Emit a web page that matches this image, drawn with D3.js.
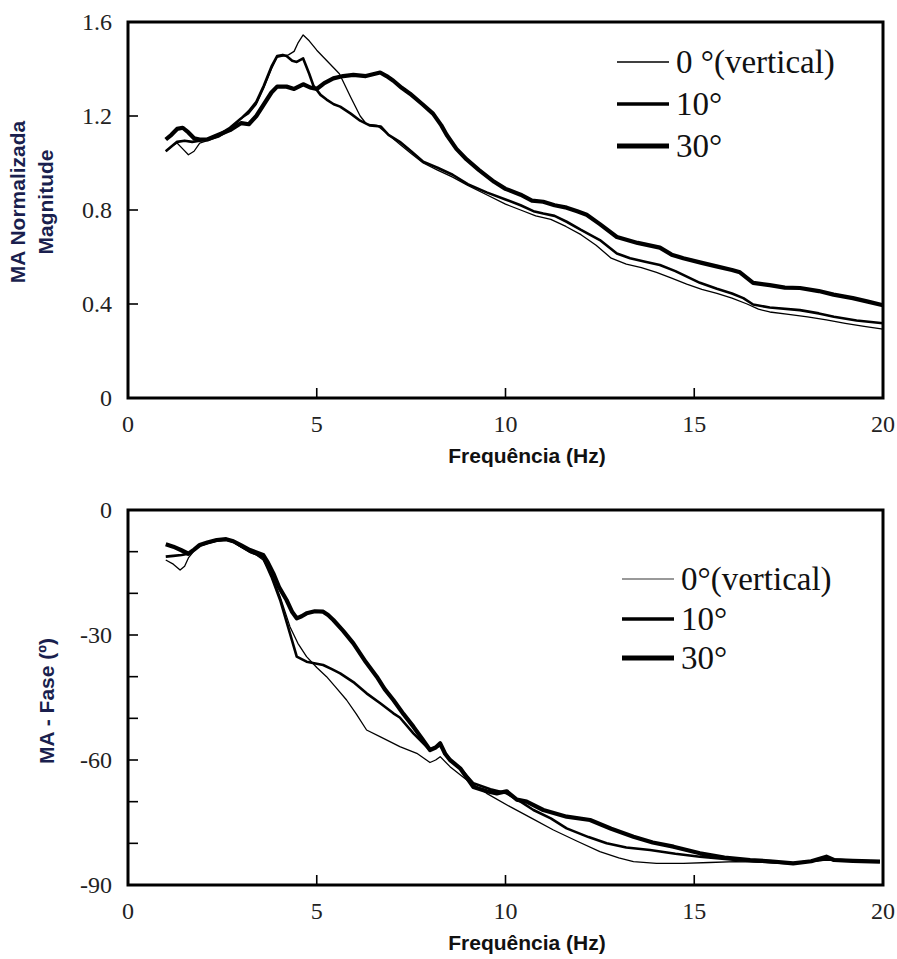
<!DOCTYPE html>
<html>
<head>
<meta charset="utf-8">
<script src="https://cdn.jsdelivr.net/npm/d3@7"></script>
</head>
<body style="margin:0">
<svg id="chart" width="897" height="959"></svg>
<script>
// series labels
var seriesNames = ["0 °(vertical)", "10°", "30°"];
var seriesNamesPhase = ["0°(vertical)", "10°", "30°"];

// tick values
var xTicks = [0, 5, 10, 15, 20];
var magTicks = [0, 0.4, 0.8, 1.2, 1.6];
var phaseTicks = [0, -30, -60, -90];
var phaseMinorTicks = [-10, -20, -40, -50, -70, -80];

// magnitude curves: [Hz, value]
var mag0 = [[1.0,1.05],[1.15,1.07],[1.3,1.085],[1.45,1.06],[1.6,1.035],[1.75,1.05],[1.9,1.085],[2.1,1.095],[2.4,1.11],[2.7,1.14],[3.0,1.19],[3.2,1.21],[3.4,1.25],[3.6,1.32],[3.8,1.40],[3.95,1.45],[4.1,1.455],[4.25,1.46],[4.4,1.475],[4.5,1.51],[4.64,1.545],[4.8,1.52],[5.0,1.48],[5.3,1.43],[5.6,1.38],[5.9,1.28],[6.15,1.20],[6.32,1.165],[6.6,1.16],[6.9,1.12],[7.2,1.08],[7.5,1.04],[7.82,1.0],[8.2,0.97],[8.6,0.94],[9.0,0.905],[9.5,0.865],[10.0,0.825],[10.4,0.8],[10.8,0.775],[11.2,0.76],[11.6,0.73],[12.0,0.695],[12.4,0.65],[12.8,0.595],[13.2,0.57],[13.6,0.555],[14.0,0.535],[14.4,0.51],[14.8,0.485],[15.2,0.462],[15.6,0.445],[16.0,0.425],[16.4,0.4],[16.7,0.378],[17.0,0.366],[17.5,0.356],[18.0,0.345],[18.5,0.332],[19.0,0.318],[19.5,0.305],[20.0,0.293]];
var mag10 = [[1.0,1.05],[1.15,1.07],[1.3,1.09],[1.5,1.095],[1.7,1.09],[1.9,1.095],[2.1,1.10],[2.4,1.12],[2.7,1.15],[3.0,1.19],[3.2,1.22],[3.4,1.26],[3.6,1.33],[3.8,1.41],[3.95,1.455],[4.1,1.46],[4.2,1.455],[4.35,1.435],[4.47,1.43],[4.64,1.445],[4.8,1.38],[4.91,1.33],[5.1,1.29],[5.26,1.27],[5.45,1.25],[5.62,1.24],[5.9,1.21],[6.15,1.18],[6.4,1.16],[6.7,1.155],[6.9,1.12],[7.2,1.09],[7.5,1.05],[7.82,1.005],[8.2,0.98],[8.6,0.95],[9.0,0.91],[9.5,0.875],[10.0,0.845],[10.4,0.82],[10.74,0.795],[11.0,0.785],[11.3,0.775],[11.62,0.75],[12.0,0.715],[12.5,0.672],[12.95,0.615],[13.3,0.595],[13.7,0.58],[14.09,0.566],[14.5,0.54],[15.15,0.49],[15.6,0.465],[16.0,0.445],[16.3,0.425],[16.56,0.398],[17.0,0.385],[17.8,0.374],[18.3,0.36],[18.7,0.346],[19.3,0.33],[20.0,0.318]];
var mag30 = [[1.0,1.10],[1.15,1.12],[1.3,1.145],[1.45,1.15],[1.6,1.13],[1.75,1.105],[1.9,1.10],[2.1,1.10],[2.4,1.12],[2.7,1.14],[3.0,1.17],[3.2,1.165],[3.4,1.20],[3.6,1.25],[3.8,1.30],[3.95,1.325],[4.2,1.325],[4.4,1.315],[4.64,1.335],[4.85,1.32],[5.0,1.315],[5.2,1.34],[5.44,1.36],[5.7,1.37],[5.97,1.375],[6.3,1.37],[6.68,1.385],[6.85,1.37],[7.03,1.35],[7.25,1.32],[7.47,1.295],[7.8,1.25],[8.08,1.21],[8.3,1.16],[8.44,1.12],[8.7,1.06],[8.97,1.015],[9.3,0.97],[9.7,0.92],[10.0,0.89],[10.4,0.865],[10.7,0.84],[11.0,0.835],[11.3,0.82],[11.62,0.81],[11.9,0.795],[12.15,0.78],[12.5,0.74],[12.95,0.685],[13.5,0.66],[14.09,0.64],[14.4,0.61],[14.71,0.595],[15.2,0.575],[15.59,0.56],[16.0,0.545],[16.21,0.535],[16.56,0.49],[17.0,0.48],[17.4,0.47],[17.8,0.468],[18.3,0.455],[18.69,0.44],[19.2,0.425],[19.6,0.41],[20.0,0.395]];

// phase curves: [Hz, degrees]
var phase0 = [[1.0,-12.0],[1.2,-13],[1.38,-14.4],[1.5,-13.5],[1.6,-11.5],[1.75,-9.8],[1.9,-8.6],[2.1,-8.0],[2.35,-7.4],[2.6,-7.2],[2.79,-7.7],[3.0,-8.9],[3.23,-10.2],[3.4,-10.8],[3.58,-12],[3.8,-15.5],[4.03,-20.8],[4.29,-28],[4.5,-32],[4.73,-35.2],[5.0,-37.8],[5.26,-40],[5.5,-42.5],[5.79,-45.6],[6.05,-49],[6.32,-52.8],[6.7,-54.5],[7.03,-56],[7.2,-56.8],[7.65,-58.4],[8.0,-60.6],[8.15,-60],[8.27,-59.2],[8.53,-61.6],[9.0,-65],[9.5,-68],[10.12,-71.2],[10.7,-74],[11.27,-76.8],[11.9,-79.5],[12.5,-82],[13.0,-83.5],[13.39,-84.4],[14.0,-84.8],[14.71,-84.8],[15.4,-84.6],[16.1,-84.4],[17.0,-84.6],[17.62,-84.8],[18.5,-84],[19.2,-84.2],[19.92,-84.4]];
var phase10 = [[1.0,-11.2],[1.2,-11.0],[1.42,-10.8],[1.6,-10.5],[1.75,-9.5],[1.9,-8.5],[2.1,-7.9],[2.35,-7.3],[2.6,-7.1],[2.79,-7.6],[3.0,-8.8],[3.23,-10],[3.4,-10.6],[3.58,-11.5],[3.8,-16],[4.03,-21.6],[4.29,-29.6],[4.47,-35.2],[4.73,-36.4],[5.17,-37.2],[5.4,-38.2],[5.62,-39.2],[6.0,-41.5],[6.32,-44],[6.7,-46.5],[7.03,-48.8],[7.2,-49.8],[7.56,-53.6],[8.0,-57.6],[8.15,-57.0],[8.27,-56.5],[8.53,-60],[8.8,-62],[9.15,-65.6],[9.6,-67],[10.03,-68],[10.4,-70],[10.74,-72],[11.2,-74],[11.62,-76.4],[12.2,-78.5],[12.68,-80],[13.2,-81],[13.83,-81.6],[14.5,-82.5],[15.15,-83.2],[16.1,-84],[17.0,-84.5],[17.62,-84.8],[18.5,-83.8],[19.2,-84.2],[19.92,-84.4]];
var phase30 = [[1.0,-8.2],[1.2,-8.8],[1.4,-9.6],[1.6,-10.5],[1.75,-9.5],[1.9,-8.4],[2.1,-7.8],[2.35,-7.2],[2.6,-7.0],[2.79,-7.5],[3.0,-8.5],[3.23,-9.6],[3.4,-10.2],[3.58,-10.8],[3.7,-12.5],[3.85,-15.2],[4.0,-18.5],[4.2,-21.6],[4.35,-24.5],[4.47,-26.0],[4.6,-25.5],[4.73,-24.8],[4.95,-24.3],[5.17,-24.4],[5.3,-25.2],[5.44,-26.4],[5.7,-29],[5.97,-32],[6.3,-36.5],[6.59,-40],[6.8,-43],[7.03,-45.6],[7.3,-49],[7.56,-52],[7.8,-55],[8.0,-57.6],[8.15,-57.0],[8.27,-56],[8.4,-58.5],[8.53,-60],[8.8,-62],[9.15,-66.5],[9.5,-67.5],[9.77,-68],[10.03,-67.5],[10.3,-69.5],[10.56,-70],[11.0,-72],[11.62,-73.6],[12.24,-74.4],[12.8,-76.5],[13.39,-78.4],[13.9,-79.8],[14.45,-80.8],[15.15,-82.4],[15.8,-83.4],[16.48,-84],[17.0,-84.3],[17.62,-84.8],[18.1,-84.3],[18.5,-83.2],[18.7,-84],[19.2,-84.2],[19.92,-84.4]];

var svg = d3.select("#chart");

// line widths for the three series
var widths = [1.3, 2.6, 4.2];
var legendWidths = [1.5, 3.5, 5];

// shared x scale
var xScale = d3.scaleLinear().domain([0, 20]).range([128, 883]);

// serif text helper (times-like), sans for titles
function serifText(sel, size) {
  return sel.style("font-family", "'Liberation Serif'").attr("font-size", size);
}
function sansText(sel, size) {
  return sel.style("font-family", "'Liberation Sans'").attr("font-weight", "bold").attr("font-size", size);
}

function drawPanel(opts) {
  var y = opts.yScale;
  var g = svg.append("g");
  var top = y.range()[1], bottom = y.range()[0];

  // curves
  var line = d3.line()
    .x(d => xScale(d[0]))
    .y(d => y(d[1]));
  opts.series.forEach(function(s, i) {
    g.append("path")
      .datum(s)
      .attr("d", line)
      .attr("fill", "none")
      .attr("stroke", "#000")
      .attr("stroke-width", widths[i])
      .attr("stroke-linejoin", "round");
  });

  // inward ticks on x
  g.selectAll(".xt")
    .data(xTicks.slice(1, -1))
    .enter().append("line")
    .attr("x1", d => xScale(d)).attr("x2", d => xScale(d))
    .attr("y1", bottom).attr("y2", bottom - 10)
    .attr("stroke", "#000").attr("stroke-width", 1.6);

  // inward ticks on y
  var yt = opts.yTicks.concat(opts.yMinor || []);
  g.selectAll(".yt")
    .data(yt.filter(d => y(d) > top + 1 && y(d) < bottom - 1))
    .enter().append("line")
    .attr("x1", xScale(0)).attr("x2", xScale(0) + 10)
    .attr("y1", d => y(d)).attr("y2", d => y(d))
    .attr("stroke", "#000").attr("stroke-width", 1.6);

  // frame
  g.append("rect")
    .attr("x", xScale(0)).attr("y", top)
    .attr("width", xScale(20) - xScale(0))
    .attr("height", bottom - top)
    .attr("fill", "none")
    .attr("stroke", "#000")
    .attr("stroke-width", 3);

  // tick labels
  g.selectAll(".xl")
    .data(xTicks)
    .enter().append("text")
    .call(serifText, 24)
    .attr("fill", "#222")
    .attr("x", d => xScale(d))
    .attr("y", bottom + 34)
    .attr("text-anchor", "middle")
    .text(d => d);

  g.selectAll(".yl")
    .data(opts.yTicks)
    .enter().append("text")
    .call(serifText, 24)
    .attr("fill", "#222")
    .attr("x", 112)
    .attr("y", d => y(d))
    .attr("dy", "0.35em")
    .attr("text-anchor", "end")
    .text(opts.fmt);

  // x title
  g.append("text")
    .call(sansText, 21)
    .attr("fill", "#111")
    .attr("x", 527)
    .attr("y", bottom + 65)
    .attr("text-anchor", "middle")
    .text("Frequência (Hz)");

  // y title
  opts.yTitle.forEach(function(t) {
    g.append("text")
      .call(sansText, 21)
      .attr("fill", "#1a1f4e")
      .attr("transform", `translate(${t.x}, ${opts.yTitleCenter}) rotate(-90)`)
      .attr("text-anchor", "middle")
      .attr("dy", "0.35em")
      .text(t.text);
  });

  // legend
  var lg = g.append("g");
  opts.names.forEach(function(n, i) {
    var ly = opts.legendY[i];
    lg.append("line")
      .attr("x1", opts.legendX).attr("x2", opts.legendX + 52)
      .attr("y1", ly).attr("y2", ly)
      .attr("stroke", i === 0 ? opts.firstColor : "#000")
      .attr("stroke-width", legendWidths[i]);
    lg.append("text")
      .call(serifText, 33)
      .attr("fill", "#111")
      .attr("x", opts.legendX + 59)
      .attr("y", ly)
      .attr("dy", "0.33em")
      .text(n);
  });
}

// magnitude panel
drawPanel({
  yScale: d3.scaleLinear().domain([0, 1.6]).range([398, 22]),
  series: [mag0, mag10, mag30],
  yTicks: magTicks,
  fmt: d => d === 0 ? "0" : d.toFixed(1),
  yTitle: [{x: 18, text: "MA Normalizada"}, {x: 46, text: "Magnitude"}],
  yTitleCenter: 202,
  names: seriesNames,
  legendX: 617,
  legendY: [62, 104, 146],
  firstColor: "#000"
});

// phase panel
drawPanel({
  yScale: d3.scaleLinear().domain([-90, 0]).range([885, 510]),
  series: [phase0, phase10, phase30],
  yTicks: phaseTicks,
  yMinor: phaseMinorTicks,
  fmt: d => d,
  yTitle: [{x: 47, text: "MA - Fase (º)"}],
  yTitleCenter: 701,
  names: seriesNamesPhase,
  legendX: 622,
  legendY: [579, 619, 658],
  firstColor: "#777"
});
</script>
</body>
</html>
